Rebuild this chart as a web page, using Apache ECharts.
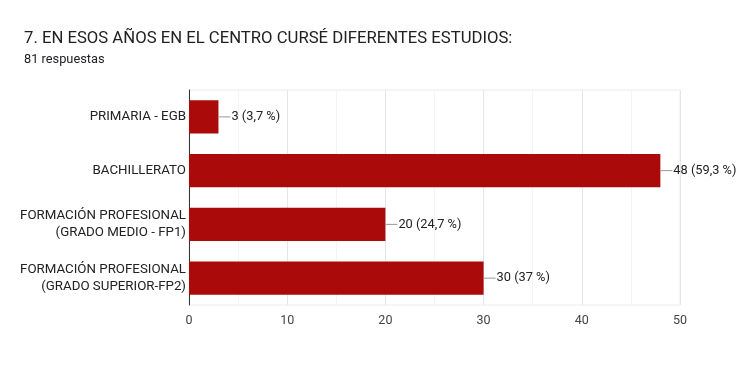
<!DOCTYPE html>
<html>
<head>
<meta charset="utf-8">
<script src="https://cdn.jsdelivr.net/npm/echarts@6/dist/echarts.min.js"></script>
<style>
html,body{margin:0;padding:0;background:#fff;}
#c{width:756px;height:369px;}
</style>
</head>
<body>
<div id="c"></div>
<script>
var categories = [
  "PRIMARIA - EGB",
  "BACHILLERATO",
  "FORMACIÓN PROFESIONAL\n(GRADO MEDIO - FP1)",
  "FORMACIÓN PROFESIONAL\n(GRADO SUPERIOR-FP2)"
];
var values = [3, 48, 20, 30];
var percentLabels = ["3,7 %", "59,3 %", "24,7 %", "37 %"];
var titleText = "7. EN ESOS AÑOS EN EL CENTRO CURSÉ DIFERENTES ESTUDIOS:";
var subtitleText = "81 respuestas";

var chart = echarts.init(document.getElementById('c'), null, {renderer: 'canvas'});
chart.setOption({
  animation: false,
  backgroundColor: '#fff',
  textStyle: {fontFamily: 'Roboto'},
  title: [
    {text: titleText, left: 24, top: 30, padding: 0, textStyle: {fontFamily: 'Roboto', fontSize: 16.7, fontWeight: 'normal', color: '#202124'}},
    {text: subtitleText, left: 24, top: 53, padding: 0, textStyle: {fontFamily: 'Roboto', fontSize: 12.8, fontWeight: 'normal', color: '#202124'}}
  ],
  grid: {left: 189, right: 76, top: 90, bottom: 64, show: true, borderColor: '#ececec', borderWidth: 1},
  xAxis: {
    type: 'value', min: 0, max: 50, interval: 10,
    axisLine: {show: false}, axisTick: {show: false},
    axisLabel: {color: '#444', fontSize: 12.5, margin: 9, fontFamily: 'Roboto'},
    splitLine: {lineStyle: {color: '#e6e6e6'}},
    minorTick: {show: false, splitNumber: 2},
    minorSplitLine: {show: true, lineStyle: {color: '#f4f4f4'}}
  },
  yAxis: {
    type: 'category', data: categories, inverse: true,
    axisLine: {show: true, lineStyle: {color: '#333', width: 1}},
    axisTick: {show: false},
    axisLabel: {color: '#222', fontSize: 13.3, margin: 3, lineHeight: 17, padding: [3, 0, 0, 0], fontFamily: 'Roboto'}
  },
  series: [{
    type: 'bar', data: values, barWidth: '62%',
    itemStyle: {color: '#aa0a0a'},
    label: {
      show: true, position: 'right', distance: 0,
      formatter: function (p) { return '{l|}{t|' + p.value + ' (' + percentLabels[p.dataIndex] + ')}'; },
      rich: {
        l: {width: 12, height: 1, backgroundColor: '#999'},
        t: {fontSize: 12.8, color: '#222', fontFamily: 'Roboto', padding: [0, 0, 0, 1]}
      }
    }
  }]
});
</script>
</body>
</html>
